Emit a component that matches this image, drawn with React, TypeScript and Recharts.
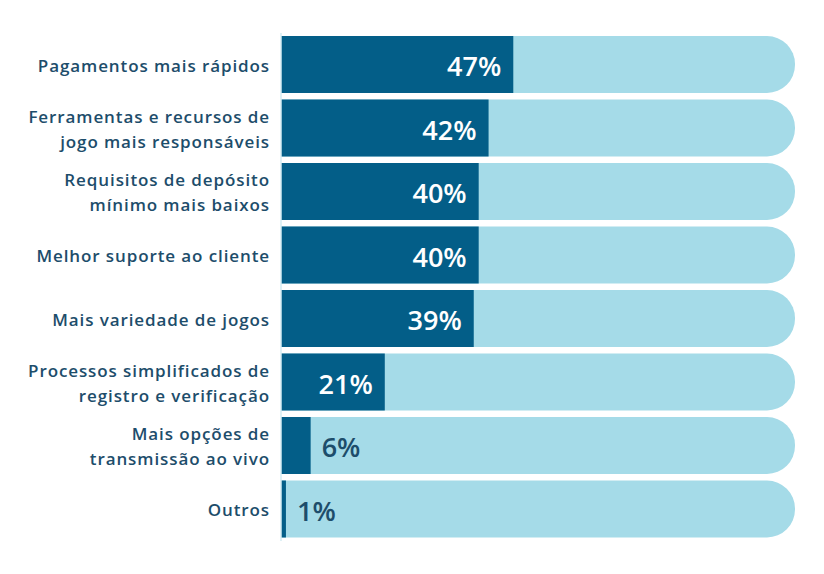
import { BarChart, Bar, XAxis, YAxis, LabelList } from "recharts";

const categories = [
  "Pagamentos mais rápidos",
  "Ferramentas e recursos de\njogo mais responsáveis",
  "Requisitos de depósito\nmínimo mais baixos",
  "Melhor suporte ao cliente",
  "Mais variedade de jogos",
  "Processos simplificados de\nregistro e verificação",
  "Mais opções de\ntransmissão ao vivo",
  "Outros",
];

const shares = [47, 42, 40, 40, 39, 21, 6, 1];

const DARK = "#035e88";
const LIGHT = "#a5dbe8";
const TEXT = "#1d4d6b";
const FONT = "'Open Sans', sans-serif";

const data = categories.map((category, i) => ({ category, share: shares[i] }));

const CategoryTick = ({ x, y, payload }: any) => {
  const lines = String(payload.value).split("\n");
  const lh = 25;
  const start = y - ((lines.length - 1) * lh) / 2;
  return (
    <text
      x={x}
      y={start}
      textAnchor="end"
      fill={TEXT}
      fontSize={17}
      fontWeight={600}
      letterSpacing={0.9}
      fontFamily={FONT}
      dominantBaseline="central"
    >
      {lines.map((line, i) => (
        <tspan key={i} x={x} y={start + i * lh} dominantBaseline="central">
          {line}
        </tspan>
      ))}
    </text>
  );
};

const ValueLabel = ({ x, y, width, height, value }: any) => {
  const inside = value >= 15;
  return (
    <text
      x={inside ? x + width - 12 : x + width + 11}
      y={y + height / 2 + 1}
      textAnchor={inside ? "end" : "start"}
      dominantBaseline="central"
      fill={inside ? "#ffffff" : TEXT}
      fontSize={27}
      fontWeight={600}
      fontFamily={FONT}
    >
      {value}%
    </text>
  );
};

export default function App() {
  return (
    <div style={{ position: "fixed", left: 0, top: 0, background: "#fff" }}>
      <BarChart
        width={824}
        height={574}
        data={data}
        layout="vertical"
        margin={{ top: 33, right: 29, bottom: 33, left: 0 }}
      >
        <XAxis type="number" domain={[0, 104]} hide />
        <YAxis
          type="category"
          dataKey="category"
          width={281}
          axisLine={{ stroke: "#d4ecf3", strokeWidth: 1.5 }}
          tickLine={false}
          tickMargin={5}
          tick={<CategoryTick />}
          interval={0}
        />
        <Bar
          dataKey="share"
          fill={DARK}
          barSize={57}
          background={{ fill: LIGHT, radius: [0, 28, 28, 0] } as any}
          isAnimationActive={false}
        >
          <LabelList dataKey="share" content={<ValueLabel />} />
        </Bar>
      </BarChart>
    </div>
  );
}
